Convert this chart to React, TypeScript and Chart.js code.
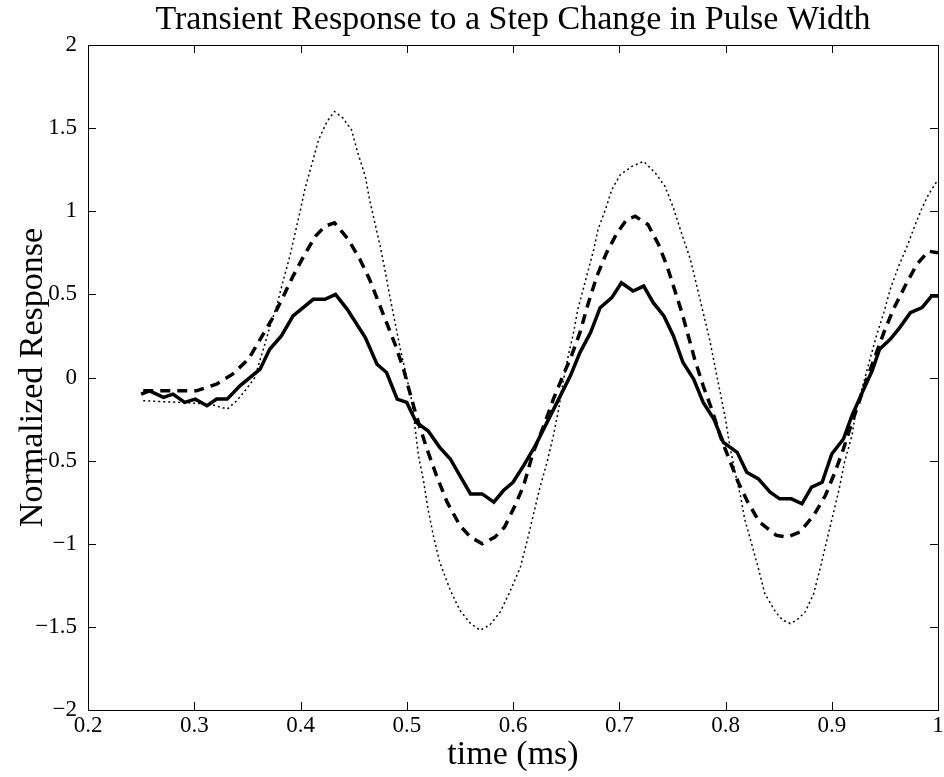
import React, { useEffect, useRef } from "react";
import { Chart, registerables } from "chart.js";

Chart.register(...registerables);

const TITLE = "Transient Response to a Step Change in Pulse Width";
const X_LABEL = "time (ms)";
const Y_LABEL = "Normalized Response";

const solidT = [0.250,0.258,0.271,0.280,0.291,0.301,0.312,0.321,0.331,0.343,0.362,0.371,0.382,0.393,0.412,0.423,0.433,0.444,0.461,0.472,0.481,0.491,0.500,0.509,0.520,0.531,0.541,0.550,0.560,0.571,0.582,0.591,0.600,0.610,0.621,0.632,0.643,0.654,0.663,0.673,0.682,0.693,0.702,0.713,0.723,0.732,0.742,0.751,0.760,0.770,0.779,0.789,0.798,0.811,0.820,0.831,0.842,0.851,0.862,0.872,0.881,0.891,0.900,0.911,0.919,0.928,0.938,0.945,0.955,0.964,0.974,0.985,0.994,1.000];
const solidV = [-0.10,-0.08,-0.12,-0.10,-0.15,-0.13,-0.17,-0.13,-0.13,-0.05,0.05,0.17,0.25,0.37,0.47,0.47,0.50,0.41,0.24,0.08,0.03,-0.13,-0.15,-0.27,-0.32,-0.42,-0.49,-0.59,-0.70,-0.70,-0.75,-0.68,-0.63,-0.53,-0.41,-0.27,-0.13,0.01,0.15,0.27,0.42,0.48,0.57,0.52,0.55,0.45,0.37,0.25,0.09,-0.01,-0.15,-0.25,-0.39,-0.45,-0.57,-0.61,-0.69,-0.73,-0.73,-0.76,-0.66,-0.63,-0.46,-0.37,-0.23,-0.10,0.04,0.17,0.23,0.30,0.39,0.42,0.49,0.49];

const dashT = [0.252,0.277,0.302,0.321,0.336,0.351,0.363,0.374,0.384,0.393,0.403,0.414,0.423,0.432,0.445,0.456,0.465,0.473,0.481,0.489,0.497,0.502,0.509,0.519,0.528,0.538,0.550,0.560,0.571,0.583,0.592,0.602,0.610,0.619,0.629,0.638,0.647,0.655,0.663,0.671,0.679,0.688,0.698,0.707,0.715,0.727,0.737,0.745,0.752,0.759,0.765,0.771,0.779,0.787,0.796,0.804,0.812,0.821,0.832,0.848,0.858,0.870,0.883,0.894,0.903,0.911,0.917,0.925,0.933,0.941,0.949,0.958,0.969,0.980,0.991,1.000];
const dashV = [-0.08,-0.08,-0.08,-0.04,0.02,0.11,0.24,0.36,0.49,0.61,0.73,0.85,0.91,0.93,0.83,0.71,0.59,0.46,0.33,0.20,0.05,-0.07,-0.23,-0.43,-0.59,-0.75,-0.89,-0.96,-1.00,-0.96,-0.90,-0.77,-0.65,-0.45,-0.29,-0.13,0.01,0.13,0.27,0.45,0.61,0.75,0.87,0.95,0.97,0.92,0.80,0.67,0.53,0.39,0.25,0.11,-0.05,-0.19,-0.37,-0.50,-0.63,-0.75,-0.87,-0.95,-0.96,-0.93,-0.83,-0.71,-0.57,-0.43,-0.31,-0.16,-0.01,0.13,0.27,0.41,0.55,0.68,0.76,0.75];

const dotT = [0.252,0.287,0.315,0.331,0.340,0.349,0.357,0.365,0.371,0.378,0.384,0.390,0.395,0.400,0.404,0.411,0.417,0.425,0.432,0.440,0.448,0.454,0.461,0.465,0.470,0.475,0.480,0.484,0.489,0.494,0.500,0.505,0.508,0.511,0.516,0.520,0.525,0.531,0.541,0.550,0.560,0.569,0.578,0.588,0.597,0.607,0.613,0.619,0.625,0.632,0.638,0.643,0.647,0.652,0.657,0.661,0.666,0.671,0.676,0.680,0.687,0.693,0.701,0.712,0.723,0.734,0.743,0.751,0.759,0.767,0.773,0.779,0.785,0.790,0.795,0.800,0.804,0.809,0.814,0.818,0.825,0.831,0.837,0.847,0.854,0.861,0.867,0.875,0.883,0.889,0.895,0.901,0.907,0.912,0.919,0.923,0.930,0.936,0.942,0.949,0.955,0.963,0.971,0.978,0.985,0.991,0.997,1.000];
const dotV = [-0.14,-0.15,-0.16,-0.19,-0.14,-0.07,0.00,0.17,0.30,0.44,0.59,0.73,0.87,1.01,1.13,1.29,1.43,1.54,1.60,1.56,1.49,1.35,1.21,1.07,0.93,0.79,0.63,0.49,0.33,0.17,0.00,-0.15,-0.31,-0.47,-0.63,-0.79,-0.95,-1.11,-1.28,-1.40,-1.48,-1.52,-1.49,-1.41,-1.29,-1.14,-0.99,-0.83,-0.67,-0.51,-0.35,-0.19,-0.03,0.13,0.27,0.41,0.53,0.65,0.77,0.89,1.01,1.13,1.22,1.27,1.30,1.23,1.15,1.02,0.86,0.71,0.55,0.39,0.23,0.07,-0.09,-0.25,-0.41,-0.57,-0.71,-0.85,-1.01,-1.15,-1.30,-1.41,-1.46,-1.48,-1.46,-1.41,-1.30,-1.15,-0.99,-0.83,-0.67,-0.51,-0.35,-0.19,-0.03,0.11,0.25,0.39,0.53,0.67,0.79,0.91,1.02,1.10,1.16,1.19];

const X_MIN = 0.2, X_MAX = 1.0, X_STEP = 0.1;
const Y_MIN = -2, Y_MAX = 2, Y_STEP = 0.5;

const FONT = "'Liberation Serif', 'Times New Roman', serif";

const pts = (t: number[], v: number[]) => t.map((x, i) => ({ x, y: v[i] }));
const fmt = (v: number) => {
  const s = String(Number(Number(v).toFixed(2)));
  return s.replace("-", "\u2212");
};

const framePlugin = {
  id: "frame",
  afterDatasetsDraw(chart: any) {
    const { ctx, chartArea } = chart;
    const { left, right, top, bottom } = chartArea;
    const xs = chart.scales.x, ys = chart.scales.y;
    const L = 8;
    ctx.save();
    ctx.strokeStyle = "#000";
    ctx.lineWidth = 1;
    ctx.setLineDash([]);
    ctx.strokeRect(Math.round(left) + 0.5, Math.round(top) + 0.5, Math.round(right - left), Math.round(bottom - top));
    ctx.beginPath();
    xs.ticks.forEach((t: any) => {
      const p = Math.round(xs.getPixelForValue(t.value)) + 0.5;
      ctx.moveTo(p, bottom); ctx.lineTo(p, bottom - L);
      ctx.moveTo(p, top); ctx.lineTo(p, top + L);
    });
    ys.ticks.forEach((t: any) => {
      const p = Math.round(ys.getPixelForValue(t.value)) + 0.5;
      ctx.moveTo(left, p); ctx.lineTo(left + L, p);
      ctx.moveTo(right, p); ctx.lineTo(right - L, p);
    });
    ctx.stroke();
    ctx.restore();
  },
};

export default function App() {
  const ref = useRef<HTMLCanvasElement | null>(null);
  useEffect(() => {
    if (!ref.current) return;
    const chart = new Chart(ref.current, {
      type: "line",
      data: {
        datasets: [
          {
            label: "dotted",
            data: pts(dotT, dotV),
            borderColor: "#000",
            borderWidth: 1.5,
            borderDash: [2, 3],
            pointRadius: 0,
            tension: 0,
            fill: false,
          },
          {
            label: "dashed",
            data: pts(dashT, dashV),
            borderColor: "#000",
            borderWidth: 3.5,
            borderDash: [10, 7],
            pointRadius: 0,
            tension: 0,
            fill: false,
          },
          {
            label: "solid",
            data: pts(solidT, solidV),
            borderColor: "#000",
            borderWidth: 3.5,
            pointRadius: 0,
            tension: 0,
            fill: false,
          },
        ],
      },
      options: {
        responsive: false,
        devicePixelRatio: 1,
        animation: false,
        layout: { padding: { left: 0, right: 6, top: 0, bottom: 0 } },
        plugins: {
          legend: { display: false },
          tooltip: { enabled: false },
          title: {
            display: true,
            text: TITLE,
            fullSize: false,
            color: "#000",
            font: { family: FONT, size: 34, weight: "normal", lineHeight: 1.0 },
            padding: { top: 3, bottom: 8 },
          },
        },
        scales: {
          x: {
            type: "linear",
            min: X_MIN,
            max: X_MAX,
            grid: { display: false },
            border: { display: false },
            ticks: {
              stepSize: X_STEP,
              color: "#000",
              font: { family: FONT, size: 23 },
              padding: -6,
              maxRotation: 0,
              callback: (v: any) => fmt(v),
            },
            title: {
              display: true,
              text: X_LABEL,
              color: "#000",
              font: { family: FONT, size: 34, lineHeight: 1.0 },
              padding: { top: 0, bottom: 5 },
            },
            afterFit: (s: any) => { s.height = 67; },
          },
          y: {
            type: "linear",
            min: Y_MIN,
            max: Y_MAX,
            grid: { display: false },
            border: { display: false },
            ticks: {
              stepSize: Y_STEP,
              color: "#000",
              font: { family: FONT, size: 23 },
              padding: 3,
              callback: (v: any) => fmt(v),
            },
            title: {
              display: true,
              text: Y_LABEL,
              color: "#000",
              font: { family: FONT, size: 34, lineHeight: 1.0 },
              padding: { top: 16, bottom: 0 },
            },
            afterFit: (s: any) => { s.width = 88; },
          },
        },
      },
      plugins: [framePlugin],
    });
    return () => chart.destroy();
  }, []);
  return (
    <div style={{ position: "fixed", left: 0, top: 0, width: 944, height: 777, background: "#fff" }}>
      <canvas ref={ref} width={944} height={777} style={{ display: "block" }} />
    </div>
  );
}
